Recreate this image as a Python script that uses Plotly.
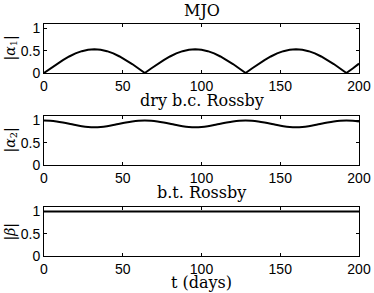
import plotly.graph_objects as go
from plotly.subplots import make_subplots

# time samples (days)
t_days = [0, 4, 8, 12, 16, 20, 24, 28, 32, 36, 40, 44, 48, 52, 56, 60,
          64, 68, 72, 76, 80, 84, 88, 92, 96, 100, 104, 108, 112, 116, 120, 124,
          128, 132, 136, 140, 144, 148, 152, 156, 160, 164, 168, 172, 176, 180, 184, 188,
          192, 196, 200]

# |alpha_1| (MJO)
alpha1 = [0.00, 0.10, 0.20, 0.29, 0.37, 0.44, 0.49, 0.52, 0.53, 0.52, 0.49, 0.44, 0.37, 0.29, 0.20, 0.10,
          0.00, 0.10, 0.20, 0.29, 0.37, 0.44, 0.49, 0.52, 0.53, 0.52, 0.49, 0.44, 0.37, 0.29, 0.20, 0.10,
          0.00, 0.10, 0.20, 0.29, 0.37, 0.44, 0.49, 0.52, 0.53, 0.52, 0.49, 0.44, 0.37, 0.29, 0.20, 0.10,
          0.00, 0.10, 0.21]

# |alpha_2| (dry b.c. Rossby)
alpha2 = [1.000, 0.995, 0.980, 0.957, 0.929, 0.898, 0.872, 0.854, 0.848, 0.854, 0.872, 0.898, 0.929, 0.957, 0.980, 0.995,
          1.000, 0.995, 0.980, 0.957, 0.929, 0.898, 0.872, 0.854, 0.848, 0.854, 0.872, 0.898, 0.929, 0.957, 0.980, 0.995,
          1.000, 0.995, 0.980, 0.957, 0.929, 0.898, 0.872, 0.854, 0.848, 0.854, 0.872, 0.898, 0.929, 0.957, 0.980, 0.995,
          1.000, 0.995, 0.978]

# |beta| (b.t. Rossby)
t_beta = [0, 50, 100, 150, 200]
beta = [1.0, 1.0, 1.0, 1.0, 1.0]

panel_titles = ["MJO", "dry b.c. Rossby", "b.t. Rossby"]
y_labels = ["|<i>α</i><sub>1</sub>|", "|<i>α</i><sub>2</sub>|", "|<i>β</i>|"]
x_ticks = [0, 50, 100, 150, 200]
y_ticks = [0, 0.5, 1]
y_tick_text = ["0", "0.5", "1"]

W, H = 374, 293
ML, MR, MT, MB = 44, 15, 24, 37

fig = make_subplots(rows=3, cols=1, shared_xaxes=False, vertical_spacing=0.0)

serif = "DejaVu Serif"
sans = "Liberation Sans"

series = [(t_days, alpha1, "linear"), (t_days, alpha2, "spline"), (t_beta, beta, "linear")]
for i, (xs, ys, shape) in enumerate(series):
    fig.add_trace(go.Scatter(x=xs, y=ys, mode="lines", line=dict(color="black", width=2, shape=shape),
                             showlegend=False, hoverinfo="skip"), row=i + 1, col=1)

domains = [[0.789, 1.0], [0.392, 0.603], [0.0, 0.211]]
for i in range(3):
    xa = "xaxis" if i == 0 else f"xaxis{i+1}"
    ya = "yaxis" if i == 0 else f"yaxis{i+1}"
    fig.layout[xa].update(range=[0, 200], tickvals=x_ticks, ticks="inside", ticklen=3, tickcolor="black",
                          showline=True, linecolor="black", linewidth=1, mirror="ticks", showgrid=False,
                          zeroline=False, automargin=False,
                          tickfont=dict(family=sans, size=14, color="black"))
    fig.layout[ya].update(range=[0, 1.1], domain=domains[i], tickvals=y_ticks, ticktext=y_tick_text,
                          ticks="inside", ticklen=3, tickcolor="black",
                          showline=True, linecolor="black", linewidth=1, mirror="ticks", showgrid=False,
                          zeroline=False, automargin=False,
                          tickfont=dict(family=sans, size=14, color="black"))

plot_h = H - MT - MB
plot_w = W - ML - MR
annotations = []
title_y_px = [11, 100, 192]
for i, txt in enumerate(panel_titles):
    annotations.append(dict(text=txt, xref="paper", yref="paper", x=0.5,
                            y=(H - MB - title_y_px[i]) / plot_h, xanchor="center", yanchor="middle",
                            showarrow=False, font=dict(family=serif, size=16, color="black")))
label_y_px = [48.5, 140.5, 231.5]
for i, txt in enumerate(y_labels):
    annotations.append(dict(text=txt, xref="paper", yref="paper", x=(10 - ML) / plot_w,
                            y=(H - MB - label_y_px[i]) / plot_h, xanchor="center", yanchor="middle",
                            textangle=-90, showarrow=False, font=dict(family=serif, size=14, color="black")))
annotations.append(dict(text="t (days)", xref="paper", yref="paper", x=0.5,
                        y=(H - MB - 282) / plot_h, xanchor="center", yanchor="middle",
                        showarrow=False, font=dict(family=serif, size=16, color="black")))

fig.update_layout(width=W, height=H, margin=dict(l=ML, r=MR, t=MT, b=MB),
                  paper_bgcolor="white", plot_bgcolor="white", annotations=annotations)

fig.write_html("out.html", config={"displayModeBar": False},
               post_script="document.body.style.margin='0';document.body.style.overflow='hidden';")
